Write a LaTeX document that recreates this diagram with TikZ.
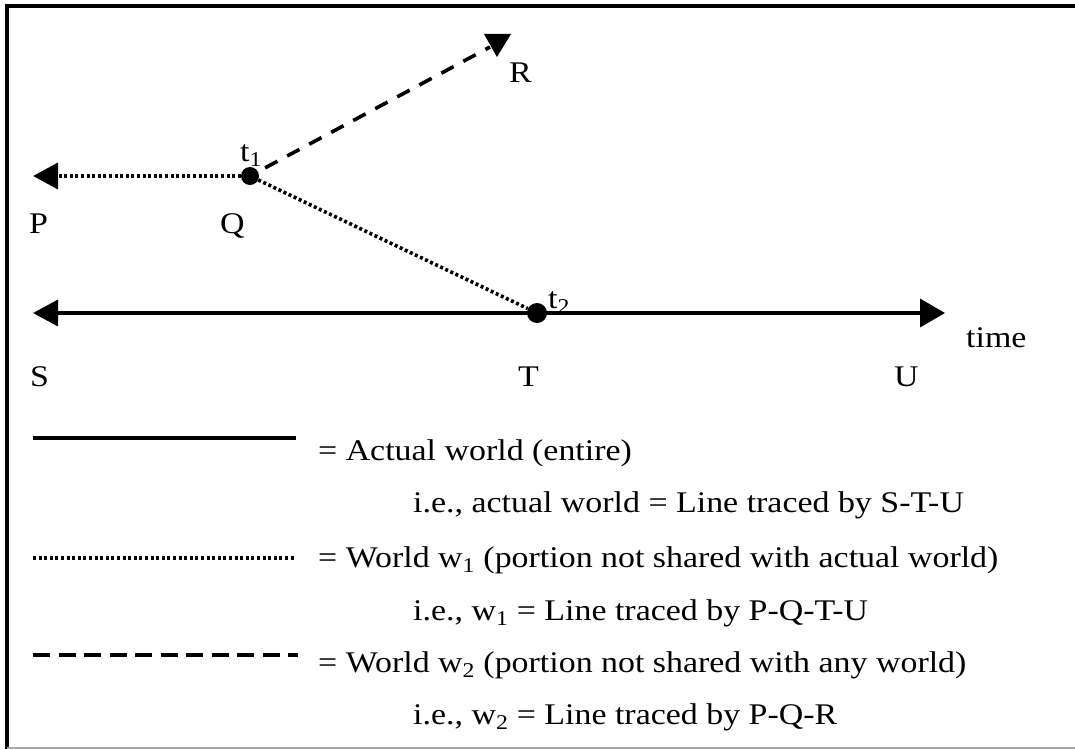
\documentclass[tikz,border=0pt]{standalone}
\usepackage{fontspec}
\setmainfont[FakeStretch=1.13]{Liberation Serif}
\usetikzlibrary{arrows.meta}
\begin{document}
\begin{tikzpicture}[x=1pt,y=-1pt,
  lbl/.style={font=\fontsize{30}{34}\selectfont, inner sep=0pt, anchor=base west},
  solidl/.style={line width=3.6pt},
  dottedl/.style={line width=3.6pt, dash pattern=on 3pt off 2.6pt},
  dashedl/.style={line width=3.6pt, dash pattern=on 14pt off 11pt},
  tri/.style={-{Triangle[length=25pt,width=26pt]}},
  dot/.style={circle, fill=black, inner sep=0pt, minimum size=#1},
]
\useasboundingbox (0,0) rectangle (1075,749);
% frame
\draw[line width=3.2pt] (7,749) -- (7,6) -- (1075,6);
\draw[black!35, line width=1.5pt] (7,748) -- (1075,748);

% points
\node[dot=18pt] (Q) at (250,176) {};
\node[dot=20pt] (T) at (537,313) {};
\coordinate (P) at (33,176);
\coordinate (S) at (33,313);
\coordinate (U) at (945,313);
\coordinate (R) at (490,47);

% connectors
\draw[dottedl, tri] (Q) -- (P);
\draw[dottedl] (Q) -- (T);
\draw[dashedl, shorten <=8pt] (Q) -- (R);
\fill (484,34) -- (511,34) -- (497,57) -- cycle;
\draw[solidl, {Triangle[length=25pt,width=26pt]}-{Triangle[length=25pt,width=28pt]}] (S) -- (U);

% labels
\node[lbl] (lP) at (29,233) {P};
\node[lbl] (lQ) at (220,233) {Q};
\node[lbl] (lt1) at (240,161) {t\textsubscript{1}};
\node[lbl] (lR) at (509,83) {R};
\node[lbl] (lt2) at (548,308) {t\textsubscript{2}};
\node[lbl] (ltime) at (966,347) {time};
\node[lbl] (lS) at (30,386) {S};
\node[lbl] (lT) at (518,386) {T};
\node[lbl] (lU) at (894,386) {U};

% legend
\coordinate (a1) at (33,438); \coordinate (a2) at (296,438);
\draw[solidl] (a1) -- (a2);
\coordinate (b1) at (33,558); \coordinate (b2) at (294,558);
\draw[dottedl] (b1) -- (b2);
\coordinate (c1) at (33,655); \coordinate (c2) at (298,655);
\draw[line width=3.6pt, dash pattern=on 17pt off 8.5pt] (c1) -- (c2);

\node[lbl] (e1) at (318,460) {= Actual world (entire)};
\node[lbl] (e2) at (413,512) {i.e., actual world = Line traced by S-T-U};
\node[lbl] (e3) at (318,567) {= World w\textsubscript{1} (portion not shared with actual world)};
\node[lbl] (e4) at (413,620) {i.e., w\textsubscript{1} = Line traced by P-Q-T-U};
\node[lbl] (e5) at (318,672) {= World w\textsubscript{2} (portion not shared with any world)};
\node[lbl] (e6) at (413,724) {i.e., w\textsubscript{2} = Line traced by P-Q-R};
\end{tikzpicture}
\end{document}
